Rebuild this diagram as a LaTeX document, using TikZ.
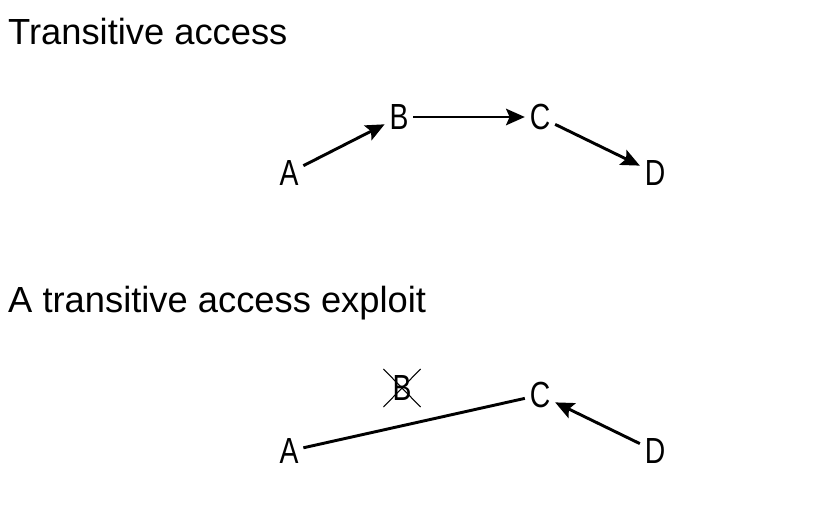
\documentclass[tikz,border=0pt]{standalone}
\usepackage{fontspec}
\setmainfont{Liberation Sans}
\newfontfamily\condfont[FakeStretch=0.78]{Liberation Sans}
\usetikzlibrary{arrows.meta,shapes.misc}

\tikzset{
  heading/.style={anchor=base west, inner sep=0pt, font=\fontsize{31}{37}\selectfont},
  letter/.style={font=\condfont\fontsize{31}{36}\selectfont, text height=22pt, text depth=0pt, inner xsep=4pt, inner ysep=3pt},
  link/.style={line width=2.5pt},
  hop/.style={link, -{Stealth[length=16pt, width=14pt, inset=3pt]}}
}

\begin{document}
\begin{tikzpicture}[x=0.03cm, y=-0.03cm]
    \useasboundingbox (0,0) rectangle (834,506);
    % direct chain
    \node[heading] (top) at (8,45) {Transitive access};
    \node[letter] (a) at (289,173) {A};
    \node[letter] (b) at (399,117) {B};
    \node[letter] (c) at (540,117) {C};
    \node[letter] (d) at (655,173) {D};
    \draw[hop] (a) -- (b);
    \draw[hop] (b) -- (c);
    \draw[hop] (c) -- (d);
    % exploit
    \node[heading] (bottom) at (8,312) {A transitive access exploit};
    \node[letter] (a2) at (289,451) {A};
    \node[letter, cross out, draw, line width=0.9pt, minimum width=1.08cm, minimum height=1.11cm] (b2) at (402,388) {B};
    \node[letter] (c2) at (540,395) {C};
    \node[letter] (d2) at (655,451) {D};
    \draw[link] (a2) -- (c2);
    \draw[hop] (d2) -- (c2);
  \end{tikzpicture}
\end{document}
